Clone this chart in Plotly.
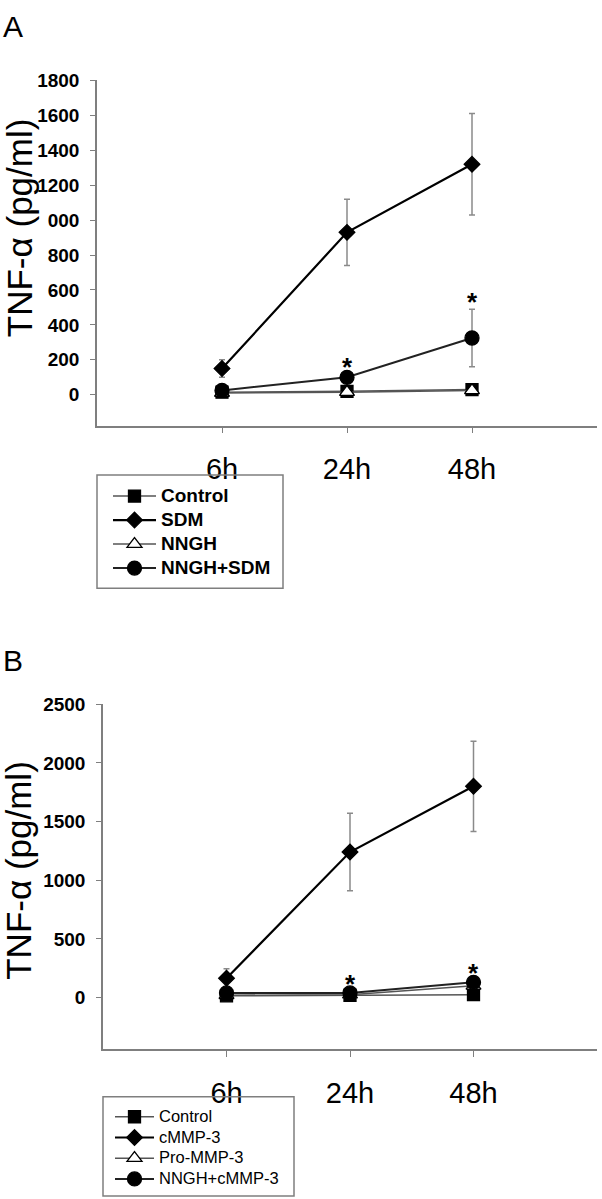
import plotly.graph_objects as go

# ---------------- data ----------------
times = ["6h", "24h", "48h"]

# Panel A
a_names = ["Control", "SDM", "NNGH", "NNGH+SDM"]
a_control = [15, 20, 30]
a_control_err = [15, 10, 10]
a_sdm = [150, 930, 1320]
a_sdm_err = [50, 190, 290]
a_nngh = [10, 15, 25]
a_nngh_err = [10, 10, 10]
a_nngh_sdm = [25, 100, 325]
a_nngh_sdm_err = [15, 20, 165]
a_sig = [False, True, True]          # asterisks on NNGH+SDM
a_yticks = [0, 200, 400, 600, 800, 1000, 1200, 1400, 1600, 1800]
a_yticktext = ["0", "200", "400", "600", "800", "000", "1200", "1400", "1600", "1800"]

# Panel B
b_names = ["Control", "cMMP-3", "Pro-MMP-3", "NNGH+cMMP-3"]
b_control = [15, 20, 25]
b_control_err = [10, 10, 10]
b_cmmp3 = [165, 1240, 1800]
b_cmmp3_err = [80, 330, 385]
b_pro = [20, 25, 100]
b_pro_err = [10, 10, 15]
b_nngh_cmmp3 = [40, 40, 130]
b_nngh_cmmp3_err = [15, 15, 20]
b_sig = [False, True, True]          # asterisks on NNGH+cMMP-3
b_yticks = [0, 500, 1000, 1500, 2000, 2500]

# ---------------- layout constants ----------------
W, H = 602, 1199
FONT = "Liberation Sans, Arial, sans-serif"
xpos = [i + 1 for i in range(len(times))]

def px_x(p):
    return p / W

def px_y(p):
    return 1 - p / H

styles = [
    dict(symbol="square", size=12, color="black", line_color="#555555", line_width=1.5),
    dict(symbol="diamond", size=12, color="black", line_color="black", line_width=2.2),
    dict(symbol="triangle-up", size=13, color="white", line_color="#555555", line_width=1.5),
    dict(symbol="circle", size=14, color="black", line_color="#222222", line_width=2.0),
]

fig = go.Figure()

def add_panel(names, values, errs, xa, ya, legend, label_px):
    for name, v, e, st in zip(names, values, errs, styles):
        fig.add_trace(go.Scatter(
            x=xpos, y=v, name=f'<span style="font-size:{label_px}px">{name}</span>',
            mode="lines+markers", xaxis=xa, yaxis=ya, legend=legend,
            line=dict(color=st["line_color"], width=st["line_width"]),
            marker=dict(symbol=st["symbol"], size=st["size"], color=st["color"],
                        line=dict(color="black", width=1.3)),
            error_y=dict(type="data", array=e, visible=True, color="#8a8a8a",
                         thickness=1.5, width=3),
        ))

add_panel(a_names, [a_control, a_sdm, a_nngh, a_nngh_sdm],
          [a_control_err, a_sdm_err, a_nngh_err, a_nngh_sdm_err], "x", "y", "legend", 19)
add_panel(b_names, [b_control, b_cmmp3, b_pro, b_nngh_cmmp3],
          [b_control_err, b_cmmp3_err, b_pro_err, b_nngh_cmmp3_err], "x2", "y2", "legend2", 16.5)

annotations = []
# asterisks
for i, s in enumerate(a_sig):
    if s:
        annotations.append(dict(x=xpos[i], y=a_nngh_sdm[i] + a_nngh_sdm_err[i], xref="x", yref="y",
                                text="*", showarrow=False, yanchor="bottom", yshift=-10,
                                font=dict(family=FONT, size=26, color="black", weight="bold")))
for i, s in enumerate(b_sig):
    if s:
        annotations.append(dict(x=xpos[i], y=b_nngh_cmmp3[i] + b_nngh_cmmp3_err[i], xref="x2", yref="y2",
                                text="*", showarrow=False, yanchor="bottom", yshift=-10,
                                font=dict(family=FONT, size=26, color="black", weight="bold")))

# panel letters
annotations.append(dict(x=px_x(1), y=px_y(17), xref="paper", yref="paper", text="A",
                        showarrow=False, xanchor="left", yanchor="middle",
                        font=dict(family=FONT, size=30, color="black")))
annotations.append(dict(x=px_x(1), y=px_y(656), xref="paper", yref="paper", text="B",
                        showarrow=False, xanchor="left", yanchor="middle",
                        font=dict(family=FONT, size=30, color="black")))
# y-axis titles
for yc in (220, 868):
    annotations.append(dict(x=px_x(19), y=px_y(yc), xref="paper", yref="paper",
                            text="TNF-α (pg/ml)", textangle=-90, showarrow=False,
                            xanchor="center", yanchor="middle",
                            font=dict(family=FONT, size=35, color="black")))

# legend frames
shapes = [
    dict(type="rect", xref="paper", yref="paper",
         x0=px_x(97), x1=px_x(283), y0=px_y(583), y1=px_y(469),
         line=dict(color="#7f7f7f", width=1.5), fillcolor="rgba(0,0,0,0)"),
    dict(type="rect", xref="paper", yref="paper",
         x0=px_x(103), x1=px_x(294), y0=px_y(1196), y1=px_y(1096),
         line=dict(color="#7f7f7f", width=1.5), fillcolor="rgba(0,0,0,0)"),
]

axis_common = dict(showline=True, linecolor="#7f7f7f", linewidth=1.5, showgrid=False,
                   zeroline=False, ticks="outside", tickcolor="#7f7f7f", tickwidth=1.2)

xaxis_common = dict(axis_common, range=[0, 4], tickvals=xpos, ticktext=times, ticklen=6,
                    tickfont=dict(family=FONT, size=29, color="black"), ticklabelstandoff=11)

fig.update_layout(
    width=W, height=H,
    margin=dict(l=0, r=0, t=0, b=0),
    paper_bgcolor="white", plot_bgcolor="white",
    showlegend=True,
    xaxis=dict(xaxis_common, domain=[px_x(97), px_x(597)], anchor="y"),
    yaxis=dict(axis_common, domain=[px_y(419), px_y(71)], range=[-176, 1800], anchor="x",
               tickvals=a_yticks, ticktext=a_yticktext, ticklen=5, ticklabelstandoff=7,
               tickfont=dict(family=FONT, size=19, color="black", weight="bold")),
    xaxis2=dict(xaxis_common, domain=[px_x(103), px_x(597)], anchor="y2"),
    yaxis2=dict(axis_common, domain=[px_y(1048), px_y(700)], range=[-440, 2500], anchor="x2",
                tickvals=b_yticks, ticklen=5, ticklabelstandoff=7,
                tickfont=dict(family=FONT, size=19, color="black", weight="bold")),
    legend=dict(x=px_x(108), y=px_y(473), xanchor="left", yanchor="top",
                borderwidth=0, bgcolor="rgba(0,0,0,0)", itemwidth=43,
                font=dict(family=FONT, size=16.15, color="black", weight="bold"),
                tracegroupgap=0),
    legend2=dict(x=px_x(110), y=px_y(1100.6), xanchor="left", yanchor="top",
                 borderwidth=0, bgcolor="rgba(0,0,0,0)", itemwidth=39,
                 font=dict(family=FONT, size=13.62, color="black"),
                 tracegroupgap=0),
    annotations=annotations,
    shapes=shapes,
)

fig.write_html("out.html", config={"displayModeBar": False},
               post_script="document.body.style.margin='0';document.body.style.overflow='hidden';")
